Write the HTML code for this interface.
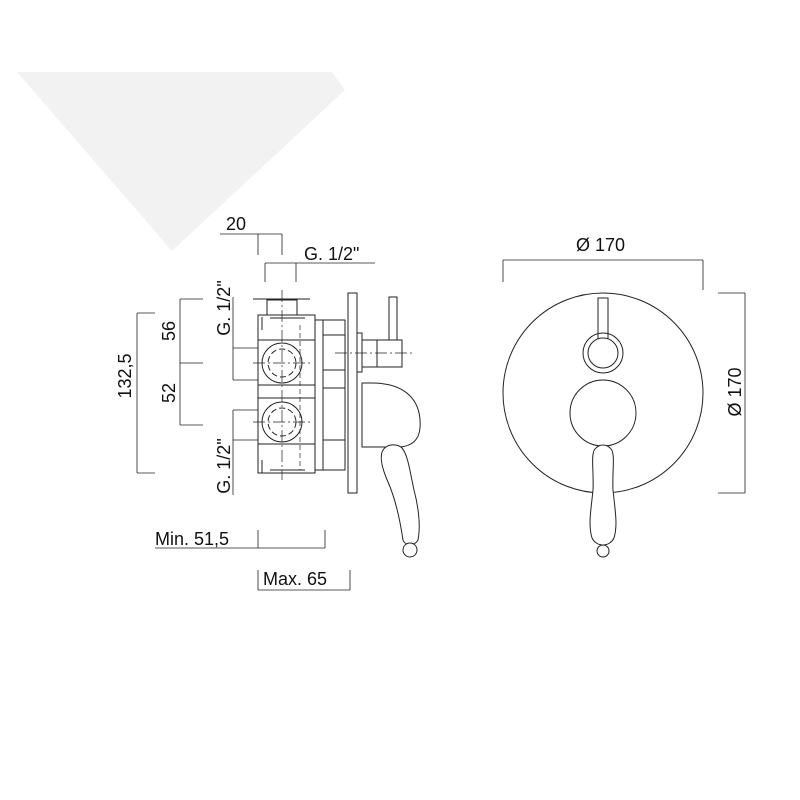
<!DOCTYPE html>
<html><head><style>html,body{margin:0;padding:0;background:#fff}svg{display:block}</style></head><body>
<svg width="800" height="800" viewBox="0 0 800 800" xmlns="http://www.w3.org/2000/svg" font-family="Liberation Sans, sans-serif" fill="none" stroke="#222" stroke-width="1">
<polygon points="17,72 332,72 345,90 172,251" fill="#f2f2f2" stroke="none"/>
<g font-size="18" fill="#111" stroke="none">
<text x="226" y="230">20</text>
<text x="304" y="260">G. 1/2"</text>
<text x="155" y="545">Min. 51,5</text>
<text x="263" y="585">Max. 65</text>
<text x="576" y="251">Ø 170</text>
<text transform="translate(741,392) rotate(-90)" text-anchor="middle">Ø 170</text>
<text transform="translate(175,331) rotate(-90)" text-anchor="middle">56</text>
<text transform="translate(175,393) rotate(-90)" text-anchor="middle">52</text>
<text transform="translate(131,376) rotate(-90)" text-anchor="middle">132,5</text>
<text transform="translate(230,308) rotate(-90)" text-anchor="middle">G. 1/2"</text>
<text transform="translate(230,466) rotate(-90)" text-anchor="middle">G. 1/2"</text>
</g>
<g stroke-width="0.8">
<path d="M220,234H282M258,234V255M282,234V255"/>
<path d="M265,263H375M265,263V282M296,263V282"/>
<path d="M180,299V425M180,299H203M180,363H203M180,425H203"/>
<path d="M137,313V473M137,313H155M137,473H155"/>
<path d="M233,297V380M233,348H258M233,380H258M233,410V495M233,410H258M233,440H258"/>
<path d="M155,548H325M258,530V548M325,530V548"/>
<path d="M258,570V590M350,570V590M258,590H350"/>
<path d="M503,260H703M503,260V282M703,260V290"/>
<path d="M745,293V493M718,293H745M718,493H745"/>
</g>
<g stroke-width="1">
<path d="M253,299H310"/>
<rect x="267" y="300" width="30" height="15"/>
<rect x="258" y="315" width="57" height="158"/>
<path d="M262,317V330M262,460V473M270,470H305M270,318H305"/>
<path d="M258,340H315M258,385H315M258,398H315M258,444H315"/>
<path d="M315,320H345V470H315M323,320V470M323,335H345M323,370H345M323,388H345M323,440H345"/>
<rect x="348" y="293" width="9" height="200"/>
<rect x="357" y="333" width="5" height="39"/>
<rect x="362" y="340" width="40" height="27"/>
<path d="M377,340V367"/>
<rect x="389" y="297" width="8" height="43"/>
<path d="M362,383H372C405,383 422,400 420,428C419,440 412,446 400,447H362Z"/>
<path d="M386,447C378,452 381,466 388,482C396,500 400,520 403,540C405,546 415,546 418,540C421,525 418,505 414,490C410,472 408,455 402,448C398,444 390,444 386,447Z" fill="#fff"/>
<circle cx="410" cy="550" r="7" fill="#fff"/>
<circle cx="282" cy="363" r="20"/>
<circle cx="282" cy="363" r="14" stroke-dasharray="6,3"/>
<circle cx="282" cy="422" r="20"/>
<circle cx="282" cy="422" r="14" stroke-dasharray="6,3"/>
</g>
<g stroke-width="0.7" stroke-dasharray="12,3,2,3">
<path d="M282,290V480M253,363H310M253,422H310M335,353H415"/>
</g>
<g stroke-width="0.7" stroke-dasharray="5,3">
<path d="M258,325V470M300,325V470"/>
</g>
<g stroke-width="1">
<circle cx="603" cy="393" r="100"/>
<circle cx="603" cy="353" r="20"/>
<circle cx="603" cy="353" r="15"/>
<path d="M598,339V298H608V339"/>
<circle cx="603" cy="413" r="33"/>
<path d="M596,448C590,452 594,470 593,490C591,510 588,525 592,538C594,542 598,545 603,545C608,545 612,542 614,538C618,525 615,510 613,490C612,470 616,452 610,448C606,444 600,444 596,448Z" fill="#fff"/>
<circle cx="603" cy="551" r="6"/>
</g>
</svg>
</body></html>
